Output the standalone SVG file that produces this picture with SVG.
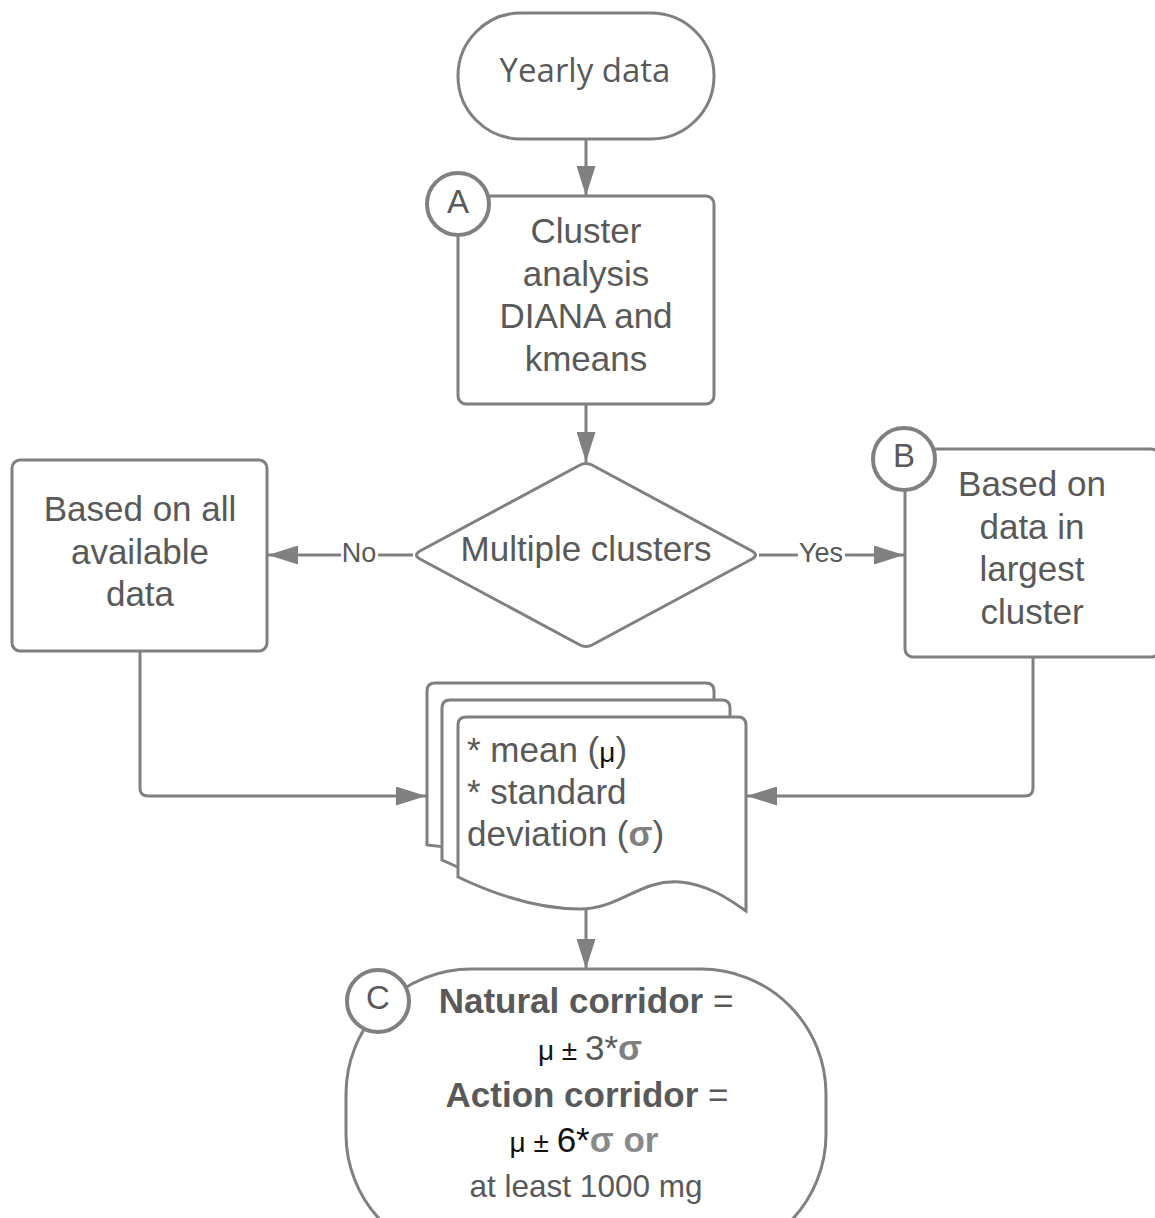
<svg xmlns="http://www.w3.org/2000/svg" width="1155" height="1218" viewBox="0 0 1155 1218">
<style>
.shape{fill:#fff;stroke:#808080;stroke-width:3}
.badge{fill:#fff;stroke:#808080;stroke-width:4}
.conn{fill:none;stroke:#808080;stroke-width:3}
.t{font-family:"Liberation Sans",Arial,sans-serif;font-size:35px;fill:#595959;text-anchor:middle}
.tl{font-family:"Liberation Sans",Arial,sans-serif;font-size:35px;fill:#595959}
.lbl{font-family:"Liberation Sans",Arial,sans-serif;font-size:27px;fill:#595959;text-anchor:middle}
.b{font-weight:bold}
.k{fill:#111;font-size:28px}
.s{fill:#808080;font-weight:bold}
</style>
<defs>
<marker id="arr" markerUnits="userSpaceOnUse" markerWidth="30" markerHeight="19" refX="30" refY="9.5" orient="auto">
<path d="M0,0 L30,9.5 L0,19 z" fill="#808080"/>
</marker>
</defs>

<g id="yearly">
<rect class="shape" x="458" y="13" width="256" height="126" rx="63"/>
<text x="585" y="82" style="font-family:'Open Sans',sans-serif;font-size:33px;fill:#595959;text-anchor:middle">Yearly data</text>
</g>

<g id="cluster">
<rect class="shape" x="458" y="196" width="256" height="208" rx="8"/>
<text class="t" x="586" y="243">Cluster</text>
<text class="t" x="586" y="285.5">analysis</text>
<text class="t" x="586" y="328">DIANA and</text>
<text class="t" x="586" y="370.5">kmeans</text>
<circle class="badge" cx="458" cy="204" r="31"/>
<text class="t" x="458" y="213" style="font-size:33px">A</text>
</g>

<g id="decision">
<path class="shape" d="M580,465 Q586,462 592,465 L752,551 Q759,555 752,559 L592,645 Q586,648 580,645 L420,559 Q413,555 420,551 Z"/>
<text class="t" x="586" y="561">Multiple clusters</text>
</g>

<g id="all-data">
<rect class="shape" x="12" y="460" width="255" height="191" rx="8"/>
<text class="t" x="140" y="521">Based on all</text>
<text class="t" x="140" y="563.5">available</text>
<text class="t" x="140" y="606">data</text>
</g>

<g id="largest-cluster">
<rect class="shape" x="905" y="449" width="254" height="208" rx="8"/>
<text class="t" x="1032" y="496">Based on</text>
<text class="t" x="1032" y="538.5">data in</text>
<text class="t" x="1032" y="581">largest</text>
<text class="t" x="1032" y="623.5">cluster</text>
<circle class="badge" cx="904" cy="459" r="31"/>
<text class="t" x="904" y="467" style="font-size:33px">B</text>
</g>

<g id="statistics">
<path class="shape" d="M427,691 Q427,683 435,683 L706,683 Q714,683 714,691 L714,877 L427,845 Z"/>
<path class="shape" d="M442,708 Q442,700 450,700 L722,700 Q730,700 730,708 L730,894 C714,883 694,868 664,865 C624,862 604,892 564,892 C524,892 484,880 442,860 Z"/>
<path class="shape" d="M458,725 Q458,717 466,717 L738,717 Q746,717 746,725 L746,911 C730,900 710,885 680,882 C640,879 620,909 580,909 C540,909 500,897 458,877 Z"/>
<text class="tl" x="467" y="762">* mean (<tspan class="k">μ</tspan>)</text>
<text class="tl" x="467" y="804">* standard</text>
<text class="tl" x="467" y="846">deviation (<tspan class="s">σ</tspan>)</text>
</g>

<g id="corridors">
<rect class="shape" x="346" y="969" width="480" height="290" rx="125"/>
<text class="t" x="586" y="1013"><tspan class="b">Natural corridor</tspan> =</text>
<text class="t" x="590" y="1060"><tspan class="k">μ ± </tspan>3*<tspan class="s">σ</tspan></text>
<text class="t" x="587" y="1107"><tspan class="b">Action corridor</tspan> =</text>
<text class="t" x="584" y="1152"><tspan class="k">μ ± </tspan><tspan fill="#111">6*</tspan><tspan style="fill:#8a8a8a;font-weight:bold">σ or</tspan></text>
<text class="t" x="586" y="1197" style="font-size:31.5px">at least 1000 mg</text>
<circle class="badge" cx="378" cy="1001" r="31"/>
<text class="t" x="378" y="1009" style="font-size:33px">C</text>
</g>

<g id="connectors">
<path class="conn" d="M586,139 L586,196" marker-end="url(#arr)"/>
<path class="conn" d="M586,405 L586,462" marker-end="url(#arr)"/>
<path class="conn" d="M413,555 L268,555" marker-end="url(#arr)"/>
<rect x="341" y="538" width="37" height="30" fill="#fff"/>
<text class="lbl" x="359" y="562">No</text>
<path class="conn" d="M759,555 L904,555" marker-end="url(#arr)"/>
<rect x="798" y="538" width="47" height="30" fill="#fff"/>
<text class="lbl" x="821" y="562">Yes</text>
<path class="conn" d="M140,652 L140,788 Q140,796 148,796 L426,796" marker-end="url(#arr)"/>
<path class="conn" d="M1033,658 L1033,788 Q1033,796 1025,796 L747,796" marker-end="url(#arr)"/>
<path class="conn" d="M586,908 L586,969" marker-end="url(#arr)"/>
</g>
</svg>
